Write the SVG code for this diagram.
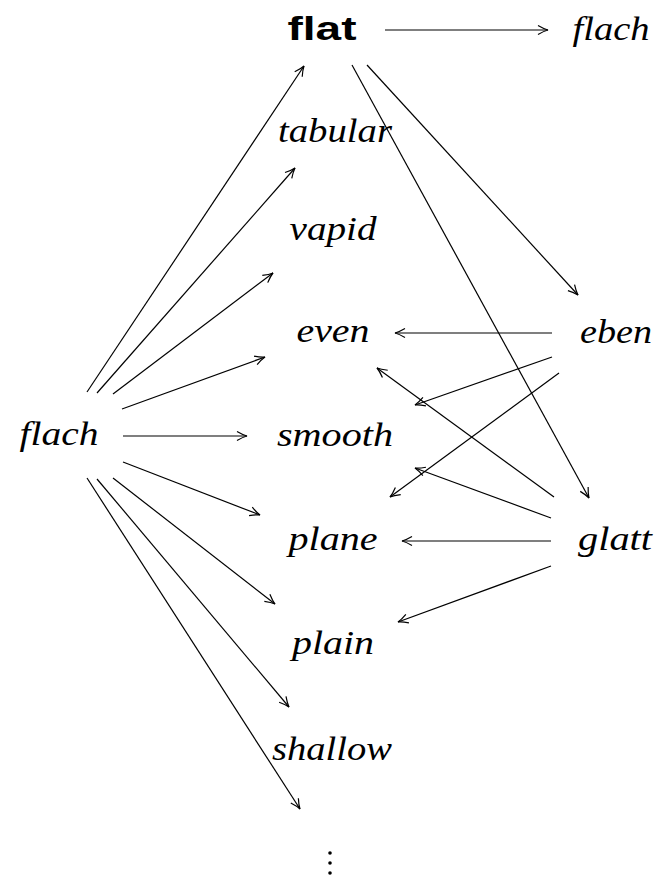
<svg xmlns="http://www.w3.org/2000/svg" width="658" height="878" viewBox="0 0 658 878">
<style>
.it{font-family:"Liberation Serif","DejaVu Serif",serif;font-style:italic;font-size:33px;fill:#000}
.bf{font-family:"Liberation Sans","DejaVu Sans",sans-serif;font-weight:bold;font-size:33px;fill:#000}
.e{stroke:#000;stroke-width:1.2;fill:none;marker-end:url(#ah)}
</style>
<defs>
<marker id="ah" viewBox="-12 -6 14 12" refX="0" refY="0" markerWidth="14" markerHeight="12" markerUnits="userSpaceOnUse" orient="auto">
<path d="M-10,-4.5 Q-4,-1 0,0 Q-4,1 -10,4.5" fill="none" stroke="#000" stroke-width="1.2"/>
</marker>
</defs>
<rect width="658" height="878" fill="#fff"/>
<g id="n-flat"><text class="bf" x="322" y="40" text-anchor="middle" textLength="69" lengthAdjust="spacingAndGlyphs">flat</text></g>
<g id="n-flach-top"><text class="it" x="611" y="40" text-anchor="middle" textLength="77" lengthAdjust="spacingAndGlyphs">flach</text></g>
<g id="n-flach"><text class="it" x="59" y="445" text-anchor="middle" textLength="79" lengthAdjust="spacingAndGlyphs">flach</text></g>
<g id="n-tabular"><text class="it" x="335" y="142" text-anchor="middle" textLength="114" lengthAdjust="spacingAndGlyphs">tabular</text></g>
<g id="n-vapid"><text class="it" x="333" y="240" text-anchor="middle" textLength="87" lengthAdjust="spacingAndGlyphs">vapid</text></g>
<g id="n-even"><text class="it" x="333" y="342" text-anchor="middle" textLength="73" lengthAdjust="spacingAndGlyphs">even</text></g>
<g id="n-smooth"><text class="it" x="335" y="446" text-anchor="middle" textLength="116" lengthAdjust="spacingAndGlyphs">smooth</text></g>
<g id="n-plane"><text class="it" x="333" y="550" text-anchor="middle" textLength="89" lengthAdjust="spacingAndGlyphs">plane</text></g>
<g id="n-plain"><text class="it" x="333" y="654" text-anchor="middle" textLength="82" lengthAdjust="spacingAndGlyphs">plain</text></g>
<g id="n-shallow"><text class="it" x="332" y="760" text-anchor="middle" textLength="120" lengthAdjust="spacingAndGlyphs">shallow</text></g>
<g id="n-eben"><text class="it" x="616" y="343" text-anchor="middle" textLength="72" lengthAdjust="spacingAndGlyphs">eben</text></g>
<g id="n-glatt"><text class="it" x="615" y="550" text-anchor="middle" textLength="74" lengthAdjust="spacingAndGlyphs">glatt</text></g>
<g id="n-dots"><circle cx="330" cy="853" r="1.8"/><circle cx="330" cy="863" r="1.8"/><circle cx="330" cy="873" r="1.8"/></g>
<g id="connectors">
<line class="e" x1="385" y1="30" x2="548" y2="30"/>
<line class="e" x1="87" y1="392" x2="304" y2="66"/>
<line class="e" x1="97" y1="393" x2="295" y2="168"/>
<line class="e" x1="113" y1="394" x2="273" y2="273"/>
<line class="e" x1="122" y1="409" x2="265" y2="357"/>
<line class="e" x1="123" y1="436" x2="247" y2="436"/>
<line class="e" x1="123" y1="462" x2="260" y2="515"/>
<line class="e" x1="113" y1="478" x2="275" y2="604"/>
<line class="e" x1="97" y1="479" x2="289" y2="707"/>
<line class="e" x1="87" y1="478" x2="300" y2="809"/>
<line class="e" x1="352" y1="65" x2="589" y2="498"/>
<line class="e" x1="367" y1="65" x2="578" y2="295"/>
<line class="e" x1="552" y1="333" x2="395" y2="333"/>
<line class="e" x1="552" y1="357" x2="415" y2="405"/>
<line class="e" x1="559" y1="373" x2="390" y2="497"/>
<line class="e" x1="554" y1="497" x2="377" y2="368"/>
<line class="e" x1="551" y1="518" x2="415" y2="468"/>
<line class="e" x1="551" y1="541" x2="402" y2="541"/>
<line class="e" x1="551" y1="566" x2="398" y2="622"/>
</g>
</svg>
